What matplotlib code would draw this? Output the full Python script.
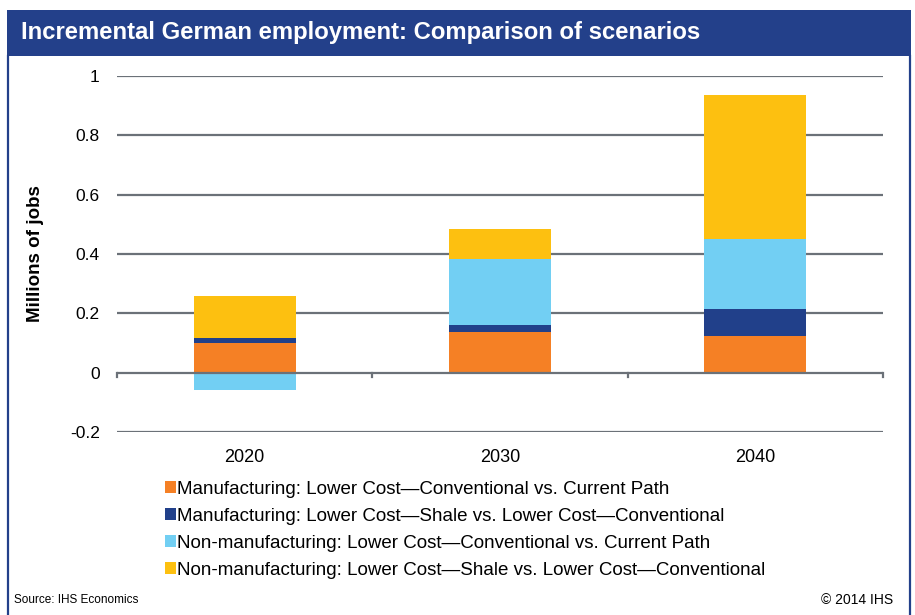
import numpy as np
import matplotlib
matplotlib.use("Agg")
import matplotlib.pyplot as plt
from matplotlib.patches import Rectangle
from matplotlib.lines import Line2D

# Data (millions of jobs)
years = ["2020", "2030", "2040"]
mfg_conv = [0.100, 0.137, 0.123]
mfg_shale = [0.017, 0.024, 0.092]
nonmfg_conv = [-0.057, 0.223, 0.235]
nonmfg_shale = [0.142, 0.099, 0.487]

series_labels = [
    "Manufacturing: Lower Cost\u2014Conventional vs. Current Path",
    "Manufacturing: Lower Cost\u2014Shale vs. Lower Cost\u2014Conventional",
    "Non-manufacturing: Lower Cost\u2014Conventional vs. Current Path",
    "Non-manufacturing: Lower Cost\u2014Shale vs. Lower Cost\u2014Conventional",
]
series_colors = ["#F58025", "#21408A", "#72CFF3", "#FDC010"]
yticks = [-0.2, 0, 0.2, 0.4, 0.6, 0.8, 1.0]
ytick_labels = ["-0.2", "0", "0.2", "0.4", "0.6", "0.8", "1"]

FRAME = "#23408A"
GRID = "#6B7178"
SANS = ["Liberation Sans", "DejaVu Sans"]

W, H = 915, 615
fig = plt.figure(figsize=(W / 100, H / 100), dpi=100)

def fx(px):
    return px / W

def fy(py):
    return 1 - py / H

# Outer frame and title band
fig.add_artist(Rectangle((fx(7), fy(56)), fx(911) - fx(7), fy(10) - fy(56),
                         transform=fig.transFigure, facecolor=FRAME,
                         edgecolor="none", zorder=0))
for xp in (8, 910):
    fig.add_artist(Line2D([fx(xp), fx(xp)], [fy(56), 0], transform=fig.transFigure,
                          color=FRAME, lw=1.6))
fig.text(fx(21), fy(33), "Incremental German employment: Comparison of scenarios",
         color="white", fontsize=17.2, fontweight="bold", family=SANS,
         va="center", ha="left")

ax = fig.add_axes([fx(117), fy(432), fx(883) - fx(117), fy(76) - fy(432)])
x = np.arange(len(years))
width = 0.40

series = [mfg_conv, mfg_shale, nonmfg_conv, nonmfg_shale]
pos_base = np.zeros(len(years))
neg_base = np.zeros(len(years))
handles = []
for vals, col, lab in zip(series, series_colors, series_labels):
    vals = np.asarray(vals, dtype=float)
    bottoms = np.where(vals >= 0, pos_base, neg_base)
    b = ax.bar(x, vals, width, bottom=bottoms, color=col, label=lab, zorder=2,
               linewidth=0)
    handles.append(b)
    pos_base = pos_base + np.where(vals >= 0, vals, 0)
    neg_base = neg_base + np.where(vals < 0, vals, 0)

ax.set_xlim(-0.5, len(years) - 0.5)
ax.set_ylim(-0.2, 1.0)
for yv in yticks:
    ax.axhline(yv, color=GRID, lw=1.6, zorder=1 if yv != 0 else 3)
# category boundary ticks on the zero line
for xb in np.arange(-0.5, len(years), 1.0):
    ax.plot([xb, xb], [0, -0.013], color=GRID, lw=1.6, zorder=3, clip_on=False)

for s in ax.spines.values():
    s.set_visible(False)
ax.set_yticks(yticks)
ax.set_yticklabels(ytick_labels, family=SANS, fontsize=12.5)
ax.set_xticks(x)
ax.set_xticklabels(years, family=SANS, fontsize=13)
ax.tick_params(axis="y", length=0, pad=12.5)
ax.tick_params(axis="x", length=0, pad=12)
ax.set_facecolor("none")

fig.text(fx(35), fy(254), "Millions of jobs", rotation=90, fontsize=13.5,
         fontweight="bold", family=SANS, va="center", ha="center")

leg = fig.legend(handles=handles, labels=series_labels, loc="upper left",
                 bbox_to_anchor=(fx(165), fy(481)), frameon=False,
                 prop={"family": SANS, "size": 13.5}, handlelength=0.6,
                 handleheight=0.6, handletextpad=0.06, labelspacing=0.53,
                 borderpad=0, borderaxespad=0)

fig.text(fx(14), fy(600), "Source: IHS Economics", fontsize=8.5, family=SANS,
         va="center", ha="left")
fig.text(fx(893), fy(600), "\u00a9 2014 IHS", fontsize=10, family=SANS,
         va="center", ha="right")

fig.savefig("out.png", dpi=100)
